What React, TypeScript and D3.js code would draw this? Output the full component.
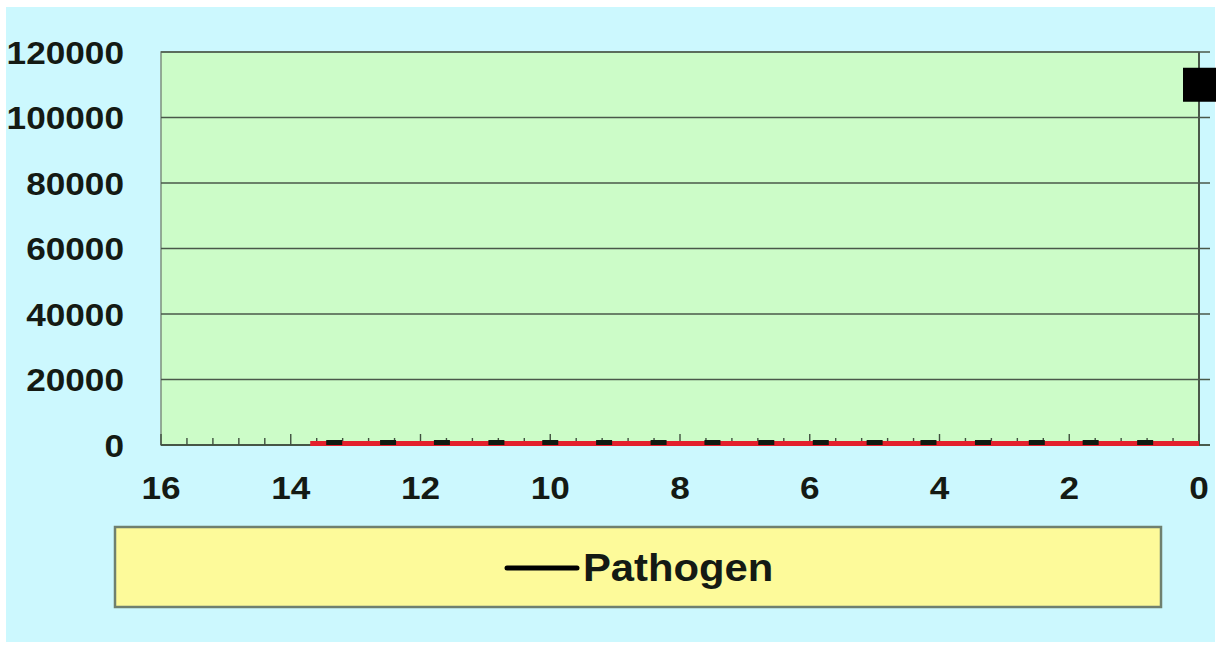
import { line, range, scaleLinear } from "d3";

const X_TICKS = [16, 14, 12, 10, 8, 6, 4, 2, 0];
const Y_TICKS = [0, 20000, 40000, 60000, 80000, 100000, 120000];

// Pathogen count over time (hours before end)
const pathogenX = [13.33, 12.5, 11.67, 10.83, 10, 9.17, 8.33, 7.5, 6.67, 5.83, 5, 4.17, 3.33, 2.5, 1.67, 0.83, 0];
const pathogenY = [0, 0, 0, 0, 0, 0, 0, 0, 0, 0, 0, 0, 0, 0, 0, 0, 110000];

// red baseline series (not in the legend)
const baselineX = [13.7, 0];
const baselineY = [0, 0];

const WIDTH = 1220;
const HEIGHT = 648;
const PLOT = { left: 161, right: 1199, top: 52, bottom: 445 };
const FONT = "'Liberation Sans', Arial, sans-serif";

export default function App() {
  const x = scaleLinear().domain([16, 0]).range([PLOT.left, PLOT.right]);
  const y = scaleLinear().domain([0, 120000]).range([PLOT.bottom, PLOT.top]);

  const baseline = baselineX.map((d, i) => ({ x: d, y: baselineY[i] }));
  const redPath = line<{ x: number; y: number }>()
    .x((d) => x(d.x))
    .y((d) => y(d.y) - 1.5)(baseline);

  const minorTicks = range(0, 16.01, 0.4);
  const points = pathogenX.map((d, i) => ({ x: d, y: pathogenY[i] }));

  return (
    <svg
      width={WIDTH}
      height={HEIGHT}
      style={{ position: "absolute", left: 0, top: 0 }}
      fontFamily={FONT}
    >
      <rect x={0} y={0} width={WIDTH} height={HEIGHT} fill="#ffffff" />
      <rect x={6} y={7} width={1209} height={635} fill="#ccf8fe" />

      {/* plot area */}
      <rect
        x={PLOT.left}
        y={PLOT.top}
        width={PLOT.right - PLOT.left}
        height={PLOT.bottom - PLOT.top}
        fill="#ccfcc8"
        stroke="#7d8f7d"
        strokeWidth={1.5}
      />

      {/* gridlines + right-side y ticks */}
      {Y_TICKS.map((t) => (
        <line
          key={t}
          x1={PLOT.left}
          x2={PLOT.right + 11}
          y1={y(t)}
          y2={y(t)}
          stroke="#4a584a"
          strokeWidth={1.6}
        />
      ))}
      <line x1={PLOT.right} x2={PLOT.right} y1={PLOT.top} y2={PLOT.bottom} stroke="#4a584a" strokeWidth={2} />

      {/* x minor / major ticks, inside */}
      {minorTicks.map((t) => {
        const major = Math.abs(t / 2 - Math.round(t / 2)) < 0.01;
        return (
          <line
            key={t.toFixed(1)}
            x1={x(t)}
            x2={x(t)}
            y1={PLOT.bottom}
            y2={PLOT.bottom - (major ? 11 : 7)}
            stroke="#3f4f3f"
            strokeWidth={1.4}
          />
        );
      })}

      <line x1={PLOT.left} x2={PLOT.right + 11} y1={PLOT.bottom} y2={PLOT.bottom} stroke="#3f4f3f" strokeWidth={1.6} />

      {/* red series */}
      <path d={redPath ?? ""} fill="none" stroke="#e3202c" strokeWidth={5} />

      {/* pathogen markers */}
      {points.map((p, i) =>
        p.y > 0 ? (
          <rect key={i} x={x(p.x) - 16} y={y(p.y) - 17} width={33} height={34} fill="#000000" />
        ) : (
          <rect key={i} x={x(p.x) - 8} y={y(p.y) - 5} width={16} height={5} fill="#101a10" />
        )
      )}

      {/* y labels */}
      {Y_TICKS.map((t) => (
        <text
          key={t}
          transform={`translate(124, ${y(t)}) scale(1.1, 1)`}
          dy="0.36em"
          textAnchor="end"
          fontSize={32}
          fontWeight="bold"
          fill="#141a14"
        >
          {t}
        </text>
      ))}

      {/* x labels */}
      {X_TICKS.map((t) => (
        <text
          key={t}
          transform={`translate(${x(t)}, 499) scale(1.1, 1)`}
          textAnchor="middle"
          fontSize={32}
          fontWeight="bold"
          fill="#141a14"
        >
          {t}
        </text>
      ))}

      {/* legend */}
      <rect x={115} y={527} width={1046} height={80} fill="#fdfa9a" stroke="#6f806f" strokeWidth={2.5} />
      <line x1={507} x2={577} y1={568} y2={568} stroke="#000000" strokeWidth={5} strokeLinecap="round" />
      <text
        transform="translate(583, 581) scale(1.1, 1)"
        fontSize={38}
        fontWeight="bold"
        fill="#141a14"
      >
        Pathogen
      </text>
    </svg>
  );
}
